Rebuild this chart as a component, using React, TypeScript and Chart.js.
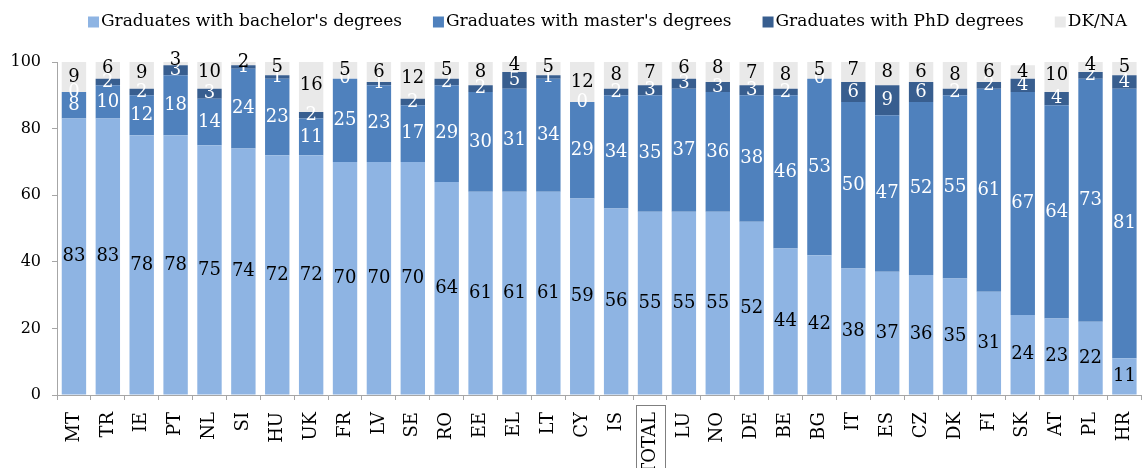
import React, { useEffect, useRef } from "react";
import { Chart, registerables } from "chart.js";

Chart.register(...registerables);

const categories = ["MT", "TR", "IE", "PT", "NL", "SI", "HU", "UK", "FR", "LV", "SE", "RO", "EE", "EL", "LT", "CY", "IS", "TOTAL", "LU", "NO", "DE", "BE", "BG", "IT", "ES", "CZ", "DK", "FI", "SK", "AT", "PL", "HR"];
const bachelor = [83, 83, 78, 78, 75, 74, 72, 72, 70, 70, 70, 64, 61, 61, 61, 59, 56, 55, 55, 55, 52, 44, 42, 38, 37, 36, 35, 31, 24, 23, 22, 11];
const master = [8, 10, 12, 18, 14, 24, 23, 11, 25, 23, 17, 29, 30, 31, 34, 29, 34, 35, 37, 36, 38, 46, 53, 50, 47, 52, 55, 61, 67, 64, 73, 81];
const phd = [0, 2, 2, 3, 3, 1, 1, 2, 0, 1, 2, 2, 2, 5, 1, 0, 2, 3, 3, 3, 3, 2, 0, 6, 9, 6, 2, 2, 4, 4, 2, 4];
const dkna = [9, 6, 9, 3, 10, 2, 5, 16, 5, 6, 12, 5, 8, 4, 5, 12, 8, 7, 6, 8, 7, 8, 5, 7, 8, 6, 8, 6, 4, 10, 4, 5];
const yTicks = [0, 20, 40, 60, 80, 100];

const seriesNames = ["Graduates with bachelor's degrees", "Graduates with master's degrees", "Graduates with PhD degrees", "DK/NA"];
const seriesColors = ["#8EB4E3", "#4F81BD", "#385E8F", "#E9E9E9"];
const labelColors = ["#000000", "#FFFFFF", "#FFFFFF", "#000000"];
const FONT = "'DejaVu Serif', 'Liberation Serif', serif";
const highlighted = "TOTAL";

const segLabels = {
  id: "segLabels",
  afterDatasetsDraw(chart: any) {
    const ctx = chart.ctx;
    ctx.save();
    ctx.font = `18px ${FONT}`;
    ctx.textAlign = "center";
    ctx.textBaseline = "middle";
    chart.data.datasets.forEach((ds: any, di: number) => {
      const meta = chart.getDatasetMeta(di);
      meta.data.forEach((el: any, i: number) => {
        const p = el.getProps(["x", "y", "base"], true);
        ctx.fillStyle = labelColors[di];
        ctx.fillText(String(ds.data[i]), p.x, (p.y + p.base) / 2);
      });
    });
    ctx.restore();
  },
};

const customLegend = {
  id: "customLegend",
  afterDraw(chart: any) {
    const ctx = chart.ctx;
    ctx.save();
    ctx.font = `17px ${FONT}`;
    ctx.textBaseline = "middle";
    ctx.textAlign = "left";
    let x = 88;
    const y = 22;
    seriesNames.forEach((name, i) => {
      ctx.fillStyle = seriesColors[i];
      ctx.fillRect(x, y - 5.5, 11, 11);
      x += 13;
      ctx.fillStyle = "#000";
      ctx.fillText(name, x, y);
      x += ctx.measureText(name).width + 31;
    });
    ctx.restore();
  },
};

const boxLabel = {
  id: "boxLabel",
  afterDraw(chart: any) {
    const idx = categories.indexOf(highlighted);
    if (idx < 0) return;
    const xs = chart.scales.x;
    const ctx = chart.ctx;
    const cx = xs.getPixelForValue(idx);
    ctx.save();
    ctx.strokeStyle = "#7F7F7F";
    ctx.lineWidth = 1;
    const top = chart.chartArea.bottom + 10;
    ctx.strokeRect(Math.round(cx - 14.5) + 0.5, top + 0.5, 29, 80);
    ctx.restore();
  },
};

export default function App() {
  const ref = useRef<HTMLCanvasElement>(null);
  useEffect(() => {
    if (!ref.current) return;
    const chart = new Chart(ref.current, {
      type: "bar",
      data: {
        labels: categories,
        datasets: [bachelor, master, phd, dkna].map((d, i) => ({
          label: seriesNames[i],
          data: d,
          backgroundColor: seriesColors[i],
          borderWidth: 0,
          barPercentage: 0.72,
          categoryPercentage: 1,
        })),
      },
      options: {
        responsive: false,
        animation: false,
        devicePixelRatio: 1,
        layout: { padding: { top: 62, right: 0, left: 0, bottom: 0 } },
        plugins: { legend: { display: false }, tooltip: { enabled: false } },
        scales: {
          x: {
            stacked: true,
            afterFit: (s: any) => { s.height = 73; },
            grid: { offset: true, drawOnChartArea: false, drawTicks: true, tickLength: 5, color: "#A6A6A6" },
            border: { display: true, color: "#A6A6A6" },
            ticks: { autoSkip: false, maxRotation: 90, minRotation: 90, padding: 12, color: "#000", font: { family: FONT, size: 18 } },
          },
          y: {
            stacked: true,
            min: 0,
            max: 100,
            afterFit: (s: any) => { s.width = 57; },
            afterBuildTicks: (s: any) => { s.ticks = yTicks.map((v) => ({ value: v })); },
            grid: { drawOnChartArea: false, drawTicks: true, tickLength: 5, color: "#A6A6A6" },
            border: { display: true, color: "#A6A6A6" },
            ticks: { padding: 11, color: "#000", font: { family: FONT, size: 16 } },
          },
        },
      },
      plugins: [segLabels, customLegend, boxLabel],
    });
    return () => chart.destroy();
  }, []);
  return (
    <div style={{ position: "absolute", left: 0, top: 0, width: 1146, height: 468, overflow: "hidden", background: "#fff" }}>
      <canvas ref={ref} width={1158} height={468} style={{ display: "block" }} />
    </div>
  );
}
